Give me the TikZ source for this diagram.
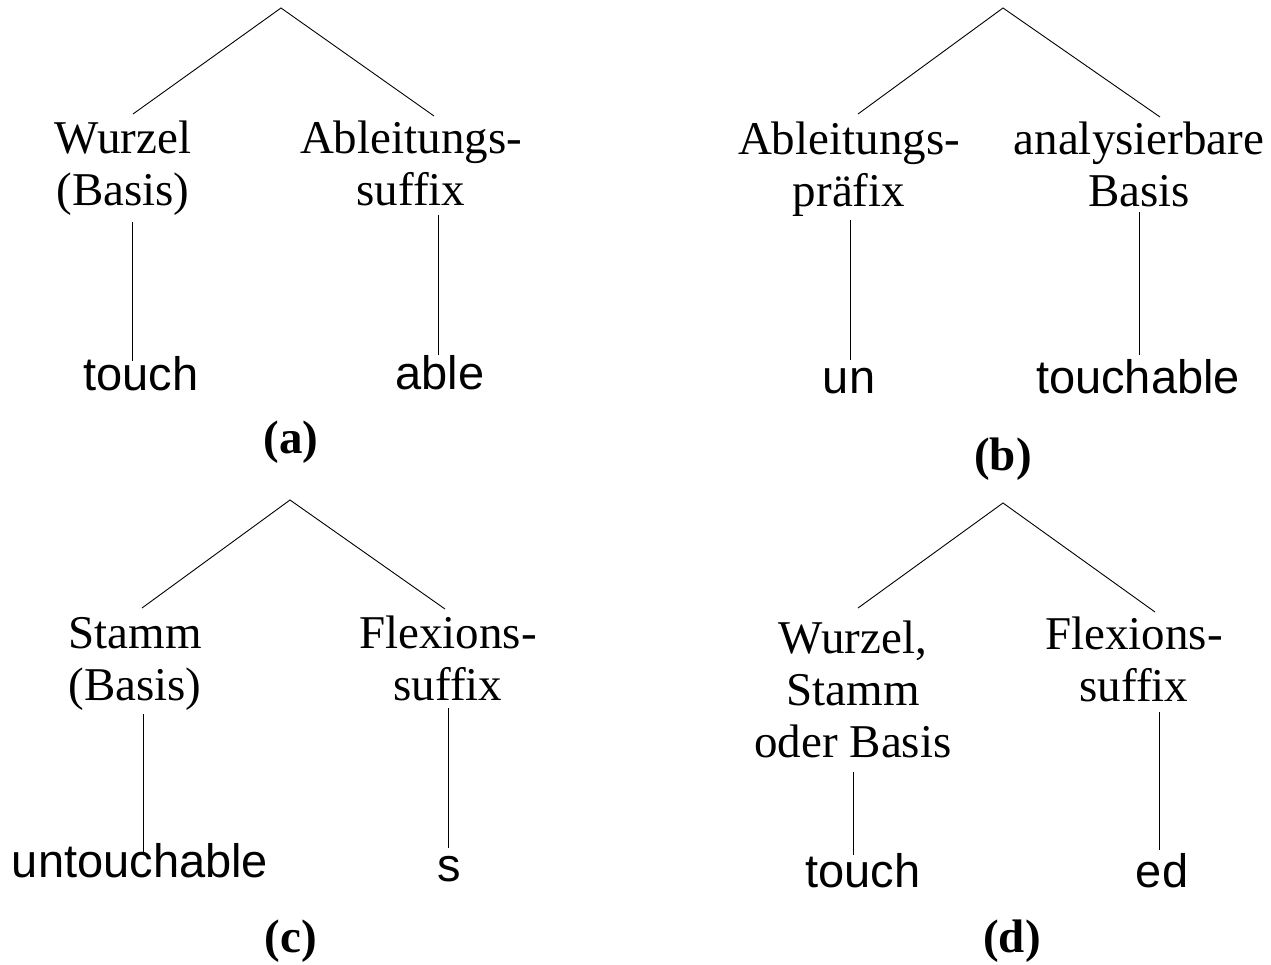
\documentclass[tikz,border=0pt]{standalone}
\usepackage{fontspec}
\setmainfont{Liberation Serif}
\newfontfamily\labsans{Liberation Sans}
\begin{document}
\begin{tikzpicture}[x=1pt,y=-1pt,
  lab/.style={inner sep=0pt,outer sep=0pt,anchor=base,align=center,font=\fontsize{47}{52}\selectfont},
  leaf/.style={inner sep=0pt,outer sep=0pt,anchor=base,font=\labsans\fontsize{47}{52}\selectfont},
  panelcap/.style={inner sep=0pt,outer sep=0pt,anchor=base,font=\bfseries\fontsize{47}{52}\selectfont},
  edge/.style={draw=black,line width=0.9pt}]
\useasboundingbox (0,0) rectangle (1271,965);
% ---------- (a)
\node[lab] (aL) at (123,206) {Wurzel\\(Basis)};
\node[lab] (aR) at (411,206) {Ableitungs-\\suffix};
\node[leaf] (aLl) at (141,390) {touch};
\node[leaf] (aRl) at (440,389) {able};
\node[panelcap] (acap) at (291,453) {(a)};
\coordinate (aTop) at (281,8);
\coordinate (aL1) at (133,114); \coordinate (aR1) at (434,116);
\coordinate (aL2) at (132,222); \coordinate (aL3) at (132,361);
\coordinate (aR2) at (438,215); \coordinate (aR3) at (438,355);
\draw[edge] (aL1) -- (aTop) -- (aR1);
\draw[edge] (aL2) -- (aL3);
\draw[edge] (aR2) -- (aR3);
% ---------- (b)
\node[lab] (bL) at (849,207) {Ableitungs-\\präfix};
\node[lab] (bR) at (1139,207) {analysierbare\\Basis};
\node[leaf] (bLl) at (849,393) {un};
\node[leaf] (bRl) at (1138,393) {touchable};
\node[panelcap] (bcap) at (1003,470) {(b)};
\coordinate (bTop) at (1003,8);
\coordinate (bL1) at (858,114); \coordinate (bR1) at (1160,117);
\coordinate (bL2) at (850,220); \coordinate (bL3) at (850,360);
\coordinate (bR2) at (1139,212); \coordinate (bR3) at (1139,355);
\draw[edge] (bL1) -- (bTop) -- (bR1);
\draw[edge] (bL2) -- (bL3);
\draw[edge] (bR2) -- (bR3);
% ---------- (c)
\node[lab] (cL) at (135,700) {Stamm\\(Basis)};
\node[lab] (cR) at (448,700) {Flexions-\\suffix};
\node[leaf] (cLl) at (140,877) {untouchable};
\node[leaf] (cRl) at (449,881) {s};
\node[panelcap] (ccap) at (291,952) {(c)};
\coordinate (cTop) at (290,500);
\coordinate (cL1) at (142,608); \coordinate (cR1) at (445,609);
\coordinate (cL2) at (143,714); \coordinate (cL3) at (143,853);
\coordinate (cR2) at (448,708); \coordinate (cR3) at (448,848);
\draw[edge] (cL1) -- (cTop) -- (cR1);
\draw[edge] (cL2) -- (cL3);
\draw[edge] (cR2) -- (cR3);
% ---------- (d)
\node[lab] (dL) at (853,757) {Wurzel,\\Stamm\\oder Basis};
\node[lab] (dR) at (1134,701) {Flexions-\\suffix};
\node[leaf] (dLl) at (863,887) {touch};
\node[leaf] (dRl) at (1162,887) {ed};
\node[panelcap] (dcap) at (1012,952) {(d)};
\coordinate (dTop) at (1003,503);
\coordinate (dL1) at (858,608); \coordinate (dR1) at (1155,612);
\coordinate (dL2) at (853,772); \coordinate (dL3) at (853,855);
\coordinate (dR2) at (1159,712); \coordinate (dR3) at (1159,850);
\draw[edge] (dL1) -- (dTop) -- (dR1);
\draw[edge] (dL2) -- (dL3);
\draw[edge] (dR2) -- (dR3);
\end{tikzpicture}
\end{document}
